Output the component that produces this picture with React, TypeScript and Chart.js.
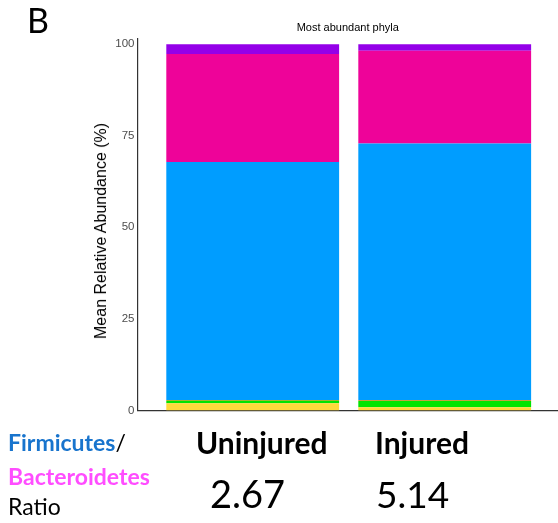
import React, { useEffect, useRef } from "react";
import { Chart, registerables } from "chart.js";

Chart.register(...registerables);

const categories = ["Uninjured", "Injured"];
const xPositions = [1, 2];
const yTicks = [0, 25, 50, 75, 100];

const otherYellow = [1.96, 0.87];
const otherGreen = [0.7, 1.71];
const otherOrange = [0.2, 0.2];
const firmicutes = [65.0, 70.1];
const bacteroidetes = [29.45, 25.3];
const otherPurple = [2.69, 1.82];

const ratios = ["2.67", "5.14"];

const seriesList = [
  { label: "Phylum A", values: otherYellow, color: "#ffd93a" },
  { label: "Phylum B", values: otherGreen, color: "#00e400" },
  { label: "Phylum C", values: otherOrange, color: "#c88a00" },
  { label: "Firmicutes", values: firmicutes, color: "#009dff" },
  { label: "Bacteroidetes", values: bacteroidetes, color: "#ee0399" },
  { label: "Phylum D", values: otherPurple, color: "#9400e8" },
];

const calibriLike = "Lato, 'Open Sans', sans-serif";

export default function App() {
  const canvasRef = useRef<HTMLCanvasElement | null>(null);

  useEffect(() => {
    const canvas = canvasRef.current;
    if (!canvas) return;
    const chart = new Chart(canvas, {
      type: "bar",
      data: {
        datasets: seriesList.map((s) => ({
          label: s.label,
          data: xPositions.map((x, i) => ({ x, y: s.values[i] })),
          backgroundColor: s.color,
          borderWidth: 0,
          barPercentage: 0.9,
          categoryPercentage: 1.0,
        })),
      },
      options: {
        animation: false,
        responsive: false,
        layout: { padding: { left: 0, right: 0, top: 0, bottom: 112.5 } },
        plugins: {
          legend: { display: false },
          tooltip: { enabled: false },
          title: {
            display: true,
            text: "Most abundant phyla",
            fullSize: false,
            color: "#000",
            font: { family: "'Liberation Sans', Arial, sans-serif", size: 11, weight: "normal", lineHeight: 1.2 },
            padding: { top: 21, bottom: 4.8 },
          },
        },
        scales: {
          x: {
            type: "linear",
            min: 0.4,
            max: 2.59,
            offset: false,
            stacked: true,
            afterBuildTicks: (scale: any) => {
              scale.ticks = xPositions.map((v) => ({ value: v }));
            },
            ticks: { display: false },
            grid: { display: false, drawTicks: false },
            border: { display: true, color: "#333", width: 1.2 },
            afterFit: (scale: any) => {
              scale.height = 0;
            },
          },
          y: {
            type: "linear",
            min: 0,
            max: 101.4,
            stacked: true,
            afterBuildTicks: (scale: any) => {
              scale.ticks = yTicks.map((v) => ({ value: v }));
            },
            ticks: {
              color: "#4d4d4d",
              padding: 3,
              font: { family: "'Liberation Sans', Arial, sans-serif", size: 11.5 },
            },
            grid: { display: false, drawTicks: false },
            border: { display: true, color: "#333", width: 1.2 },
            afterFit: (scale: any) => {
              scale.width = 137.5;
            },
          },
        },
      },
    });
    return () => chart.destroy();
  }, []);

  const abs = (style: React.CSSProperties): React.CSSProperties => ({
    position: "absolute",
    whiteSpace: "nowrap",
    lineHeight: 1,
    margin: 0,
    ...style,
  });

  return (
    <div style={{ position: "absolute", left: 0, top: 0, width: 558, height: 523, background: "#fff", overflow: "hidden" }}>
      <canvas ref={canvasRef} width={558} height={523} style={{ position: "absolute", left: 0, top: 0, width: 558, height: 523 }} />
      <div style={abs({ left: 27, top: 3, fontFamily: calibriLike, fontSize: 34, color: "#000" })}>B</div>
      <div
        style={abs({
          left: 101,
          top: 231,
          transform: "translate(-50%, -50%) rotate(-90deg)",
          fontFamily: "'Liberation Sans', Arial, sans-serif",
          fontSize: 16,
          color: "#000",
        })}
      >
        Mean Relative Abundance (%)
      </div>
      <div style={abs({ left: 8, top: 431, fontFamily: calibriLike, fontSize: 23, fontWeight: 700 })}>
        <span style={{ color: "#1874cd" }}>Firmicutes</span>
        <span style={{ color: "#000", fontWeight: 400 }}>/</span>
      </div>
      <div style={abs({ left: 8, top: 465, fontFamily: calibriLike, fontSize: 23, fontWeight: 700, color: "#ff4dff" })}>
        Bacteroidetes
      </div>
      <div style={abs({ left: 8, top: 495, fontFamily: calibriLike, fontSize: 23, color: "#000" })}>Ratio</div>
      <div style={abs({ left: 196, top: 427, fontFamily: calibriLike, fontSize: 30, fontWeight: 700, color: "#000" })}>
        {categories[0]}
      </div>
      <div style={abs({ left: 375, top: 427, fontFamily: calibriLike, fontSize: 30, fontWeight: 700, color: "#000" })}>
        {categories[1]}
      </div>
      <div style={abs({ left: 210, top: 474, fontFamily: calibriLike, fontSize: 38, color: "#000" })}>{ratios[0]}</div>
      <div style={abs({ left: 376, top: 475, fontFamily: calibriLike, fontSize: 37, color: "#000" })}>{ratios[1]}</div>
    </div>
  );
}
